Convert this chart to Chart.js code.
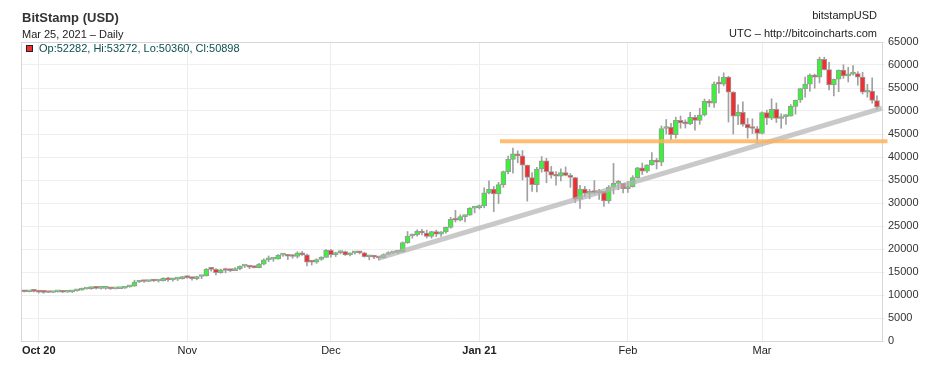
<!DOCTYPE html>
<html>
<head>
<meta charset="utf-8">
<script src="https://cdn.jsdelivr.net/npm/chart.js@4.4.0/dist/chart.umd.min.js"></script>
<style>
  body { margin: 0; background: #fff; }
  #wrap { position: relative; width: 927px; height: 365px; font-family: "Liberation Sans", Arial, sans-serif; color: #222; }
  #wrap canvas { position: absolute; left: 0; top: 0; }
  .t { position: absolute; white-space: nowrap; font-size: 11px; line-height: 13px; }
  #title { left: 22px; top: 10px; font-size: 13px; font-weight: bold; line-height: 15px; color: #333; }
  #sub { left: 22px; top: 28px; }
  #sym { right: 50px; top: 9px; }
  #src { right: 50px; top: 27px; }
  #ohlc { left: 39px; top: 42px; color: #0b4f4f; }
  #swatch { position: absolute; left: 26px; top: 45px; width: 5px; height: 5px; background: #f03030; border: 1px solid #222; }
</style>
</head>
<body>
<div id="wrap">
  <canvas id="c" width="927" height="365"></canvas>
  <div class="t" id="title">BitStamp (USD)</div>
  <div class="t" id="sub">Mar 25, 2021 &ndash; Daily</div>
  <div class="t" id="sym">bitstampUSD</div>
  <div class="t" id="src">UTC &ndash; http://bitcoincharts.com</div>
  <div id="swatch"></div>
  <div class="t" id="ohlc">Op:52282, Hi:53272, Lo:50360, Cl:50898</div>
</div>
<script>
// ── data: daily candles, 2020-09-28 .. 2021-03-25 (day 0 = 2020-10-01) ──
const firstDay = -3;

const opens = [
  10775,10700,10840,
  10780,10620,10570,10550,10670,10790,10600,10670,10920,11060,11300,11380,11550,11430,11430,11500,11330,11370,11510,11760,11920,12820,12970,12930,13120,13040,13070,13650,13280,13460,13560,
  13800,13760,13560,14030,14150,15590,15580,14840,15480,15330,15300,15700,16280,16320,16070,15960,16720,17650,17800,17820,18660,18700,18420,18370,19160,18730,17150,17140,17720,18180,
  19700,18790,19220,19450,18700,19150,19360,19170,18320,18550,18250,18040,18800,19170,19270,19440,21380,22830,23140,23860,23480,22760,23800,23240,23730,24710,26440,26250,27040,27360,28890,
  28980,29390,32200,33000,31990,33990,36820,39470,40670,40240,38240,35540,34010,37390,39150,36830,36050,35820,36640,36020,35550,30820,33010,32100,32290,32270,32530,30430,33450,34270,34290,
  33110,33540,35510,37670,36940,38290,39260,38900,46200,46480,44850,47970,47400,47200,48600,47930,49130,52150,51680,55900,55840,57400,54090,48900,49700,47090,46340,46190,
  45140,49630,48450,50380,48370,48760,48880,51000,52390,54880,55850,57800,57330,61240,59000,55650,56910,58900,57650,58030,58110,57350,54090,54340,52282
];
const highs = [
  10950,10860,10850,
  10920,10660,10600,10690,10800,10800,10690,10950,11110,11490,11440,11720,11560,11550,11620,11540,11400,11530,11820,12000,13220,13180,13020,13160,13340,13240,13770,13850,13620,13670,14070,
  13900,13820,14070,14260,15760,15960,15760,15650,15830,15460,15950,16340,16470,16330,16140,16880,17840,18480,18150,18800,18960,18750,18770,19400,19480,18900,17450,17880,18340,19850,
  19910,19330,19580,19540,19180,19420,19400,19290,18640,18560,18280,18950,19420,19340,19570,21560,23800,23280,24170,24300,24100,23850,24100,23800,24780,26880,28400,27420,27400,28990,29300,
  29600,33300,34800,33600,34500,36950,40180,41950,41350,41400,38250,36600,37750,40100,39700,37950,36850,37450,37850,36400,35600,33850,33600,32950,34880,32950,32560,33800,38600,34900,34300,
  34700,35950,37750,38700,38300,40950,39700,46750,48150,47300,48650,48900,48100,49700,49050,50600,52600,52500,56350,57500,58300,57550,54200,51350,52000,48400,48300,46650,
  49800,50200,52650,51750,49400,49200,51400,52400,54900,57400,58100,58000,61700,61700,60600,56950,58950,60050,59500,59900,58550,58400,55800,57200,53272
];
const lows = [
  10650,10650,10670,
  10440,10370,10500,10520,10630,10530,10560,10540,10830,11060,11260,11230,11300,11280,11260,11220,11310,11350,11420,11680,11900,12700,12730,12900,12920,12800,13050,12940,12990,13130,13440,
  13620,13200,13300,13550,14100,15200,14350,14720,14800,15080,15280,15450,15980,15720,15860,15900,16560,17220,17340,17760,18400,17700,18000,18030,18600,16300,16500,16880,17540,18180,
  18200,18370,18950,18600,18520,18880,18920,18220,17650,17910,17580,18020,18750,19000,19050,19300,21230,22350,22800,23080,22400,22370,22700,22720,23430,24510,25850,26080,25880,27330,27850,
  28700,28950,32000,28130,29900,33400,36300,36500,38750,35000,30400,32500,32400,36700,34400,35400,33850,34800,35900,33400,30100,28800,31400,30900,31900,30800,29250,29950,31950,32850,32200,
  32300,33450,35400,36200,36600,38200,37400,38100,45000,43800,44100,46250,46300,47050,45850,47100,48900,50900,50800,53900,55450,47600,45000,47050,46700,44100,45100,43000,
  45000,47050,48100,47500,46250,47100,48900,49300,51850,53000,54300,54950,56100,58900,54600,53300,54200,57100,56300,57800,55600,53700,53000,51700,50360
];
const closes = [
  10700,10840,10780,
  10620,10570,10550,10670,10790,10600,10670,10920,11060,11300,11380,11550,11430,11430,11500,11330,11370,11510,11760,11920,12820,12970,12930,13120,13040,13070,13650,13280,13460,13560,13800,
  13760,13560,14030,14150,15590,15580,14840,15480,15330,15300,15700,16280,16320,16070,15960,16720,17650,17800,17820,18660,18700,18420,18370,19160,18730,17150,17140,17720,18180,19700,
  18790,19220,19450,18700,19150,19360,19170,18320,18550,18250,18040,18800,19170,19270,19440,21380,22830,23140,23860,23480,22760,23800,23240,23730,24710,26440,26250,27040,27360,28890,28980,
  29390,32200,33000,31990,33990,36820,39470,40670,40240,38240,35540,34010,37390,39150,36830,36050,35820,36640,36020,35550,30820,33010,32100,32290,32270,32530,30430,33450,34270,34290,33110,
  33540,35510,37670,36940,38290,39260,38900,46200,46480,44850,47970,47400,47200,48600,47930,49130,52150,51680,55900,55840,57400,54090,48900,49700,47090,46340,46190,45140,
  49630,48450,50380,48370,48760,48880,51000,52390,54880,55850,57800,57330,61240,59000,55650,56910,58900,57650,58030,58110,57350,54090,54340,52300,50898
];

// month ticks (days since 2020-10-01)
const monthTicks  = [0, 31, 61, 92, 123, 151];
const monthLabels = ['Oct 20', 'Nov', 'Dec', 'Jan 21', 'Feb', 'Mar'];
const yearTicks   = ['Oct 20', 'Jan 21'];

// drawn lines: support (orange) and trend (gray)
const supportLine = [{ x: 96.3, y: 43450 }, { x: 177.2, y: 43450 }];
const trendLine   = [{ x: 71, y: 18000 }, { x: 176.05, y: 50600 }];

// ── build datasets ──
const bodies = opens.map((o, i) => ({ x: firstDay + i, y: [o, closes[i]] }));
const wicks  = lows.map((l, i) => ({ x: firstDay + i, y: [l, highs[i]] }));
const bodyColors = opens.map((o, i) => closes[i] >= o ? '#3cf03c' : '#f03030');

const frame = {
    id: 'frame',
    beforeDatasetsDraw(chart) {
        const a = chart.chartArea, c = chart.ctx;
        c.save();
        c.strokeStyle = '#d6d6d6';
        c.lineWidth = 1;
        c.strokeRect(Math.round(a.left) + 0.5, Math.round(a.top) + 0.5, Math.round(a.right - a.left), Math.round(a.bottom - a.top));
        c.restore();
    }
};

const FONT = '"Liberation Sans", Arial, sans-serif';

new Chart(document.getElementById('c'), {
    type: 'bar',
    data: {
        datasets: [
            { type: 'line', data: supportLine, borderColor: 'rgba(255,178,88,0.85)', borderWidth: 4, pointRadius: 0, clip: false, order: 0 },
            { type: 'line', data: trendLine, borderColor: 'rgba(178,178,178,0.7)', borderWidth: 5, pointRadius: 0, order: 1 },
            { data: bodies, backgroundColor: bodyColors, borderColor: '#9a9a9a', borderWidth: 1, borderSkipped: false,
              barThickness: 5, minBarLength: 2, grouped: false, order: 2 },
            { data: wicks, backgroundColor: '#a0a0a0', borderWidth: 0, barThickness: 1, grouped: false, order: 3 }
        ]
    },
    options: {
        responsive: false,
        animation: false,
        events: [],
        layout: { padding: { left: 21, top: 42, right: 0, bottom: 0 } },
        plugins: { legend: { display: false }, tooltip: { enabled: false } },
        scales: {
            x: {
                type: 'linear',
                min: -3.7,
                max: 176.05,
                offset: false,
                grid: { color: '#ececec', drawTicks: false, offset: false },
                border: { color: '#d6d6d6' },
                afterBuildTicks: s => { s.ticks = monthTicks.map(v => ({ value: v })); },
                afterFit: s => { s.height = 24; },
                ticks: {
                    autoSkip: false,
                    maxRotation: 0,
                    padding: 3,
                    color: '#222',
                    font: ctx => ({ family: FONT, size: 11, weight: yearTicks.includes(monthLabels[monthTicks.indexOf(ctx.tick && ctx.tick.value)]) ? 'bold' : 'normal' }),
                    callback: v => monthLabels[monthTicks.indexOf(v)] || ''
                }
            },
            y: {
                position: 'right',
                min: 0,
                max: 65000,
                grid: { color: '#eeeeee', tickLength: 3 },
                border: { color: '#d6d6d6' },
                afterFit: s => { s.width = 45; },
                ticks: {
                    stepSize: 5000,
                    padding: 3,
                    color: '#333',
                    font: { family: FONT, size: 11 },
                    callback: v => String(v)
                }
            }
        }
    },
    plugins: [frame]
});
</script>
</body>
</html>
